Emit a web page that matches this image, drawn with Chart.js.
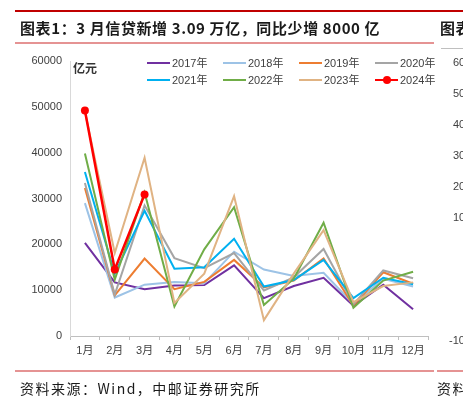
<!DOCTYPE html>
<html>
<head>
<meta charset="utf-8">
<script src="https://cdn.jsdelivr.net/npm/chart.js@4"></script>
<style>
  body { margin: 0; background: #fff; }
  #page { position: relative; width: 463px; height: 397px; overflow: hidden; background: #fff;
          font-family: "Liberation Sans", "Noto Sans CJK SC", sans-serif; }
  #chart { position: absolute; left: 0; top: 0; }
  .rule { position: absolute; }
  .txt { position: absolute; white-space: nowrap; }
  .title { font-family: "Noto Sans CJK SC", sans-serif; font-weight: bold; font-size: 15px; color: #1a1a1a; letter-spacing: 0.6px; }
  .foot { font-family: "Noto Sans CJK SC", sans-serif; font-size: 14px; color: #1a1a1a; letter-spacing: 1.5px; }
  .leg { position: absolute; font-size: 11px; color: #404040; line-height: 12px; white-space: nowrap; width: 70px; height: 12px; }
  .leg i { position: absolute; left: 0; top: 5px; width: 23px; height: 2px; }
  .leg b { position: absolute; left: 8px; top: 2px; width: 8px; height: 8px; border-radius: 50%; }
  .leg span { position: absolute; left: 25px; top: 0; white-space: nowrap; }
  .side { position: absolute; font-size: 11px; color: #404040; white-space: nowrap; }
</style>
</head>
<body>
<div id="page">
  <canvas id="chart" width="463" height="397"></canvas>

  <div class="rule" style="left:15px;top:10px;width:448px;height:2px;background:#c00000"></div>
  <div class="rule" style="left:15px;top:42px;width:419px;height:2px;background:#e59393"></div>
  <div class="rule" style="left:441px;top:48px;width:22px;height:1px;background:#bfbfbf"></div>
  <div class="rule" style="left:15px;top:370px;width:419px;height:2px;background:#e59393"></div>
  <div class="rule" style="left:437px;top:370px;width:26px;height:2px;background:#e59393"></div>

  <div class="txt title" style="left:20px;top:17px">图表1：3 月信贷新增 3.09 万亿，同比少增 8000 亿</div>
  <div class="txt title" style="left:440px;top:17px">图表</div>
  <div class="txt foot" style="left:20px;top:378px">资料来源：Wind，中邮证券研究所</div>
  <div class="txt foot" style="left:437px;top:378px">资料</div>
  <div class="txt" style="left:73px;top:59px;font-family:'Noto Sans CJK SC';font-size:12px;font-weight:bold;color:#333">亿元</div>
</div>

<script>
// monthly new RMB loans, 亿元
const months = ['1月', '2月', '3月', '4月', '5月', '6月', '7月', '8月', '9月', '10月', '11月', '12月'];
const yearLabels = ['2017年', '2018年', '2019年', '2020年', '2021年', '2022年', '2023年', '2024年'];

const loans2017 = [20300, 11700, 10200, 11000, 11100, 15400, 8255, 10900, 12700, 6632, 11200, 5844];
const loans2018 = [29000, 8393, 11200, 11800, 11500, 18400, 14500, 13100, 13800, 6970, 12500, 10800];
const loans2019 = [32300, 8858, 16900, 10200, 11800, 16600, 10600, 12100, 16900, 6613, 13900, 11400];
const loans2020 = [33400, 9057, 28500, 17000, 14800, 18100, 9927, 12800, 19000, 6898, 14300, 12600];
const loans2021 = [35800, 13600, 27300, 14700, 15000, 21200, 10800, 12200, 16600, 8262, 12700, 11300];
const loans2022 = [39800, 12300, 31300, 6454, 18900, 28100, 6790, 12500, 24700, 6152, 12100, 14000];
const loans2023 = [49000, 18100, 38900, 7188, 13600, 30500, 3459, 13600, 23100, 7384, 10900, 11700];
const loans2024 = [49200, 14500, 30900];

const yTicks = [0, 10000, 20000, 30000, 40000, 50000, 60000];
const sideTicks = ['60', '50', '40', '30', '20', '10', '-10'];

const seriesValues = [loans2017, loans2018, loans2019, loans2020, loans2021, loans2022, loans2023, loans2024];
const colors = ['#7030a0', '#9dc3e6', '#ed7d31', '#a5a5a5', '#00b0f0', '#70ad47', '#e0b383', '#ff0000'];

const fontFamily = '"Liberation Sans", "Noto Sans CJK SC", sans-serif';

const datasets = seriesValues.map((vals, i) => {
    const isLatest = i === seriesValues.length - 1;
    return {
        label: yearLabels[i],
        data: vals,
        borderColor: colors[i],
        backgroundColor: colors[i],
        borderWidth: isLatest ? 2.5 : 2,
        pointRadius: isLatest ? 4 : 0,
        pointBorderWidth: 0,
        tension: 0,
        order: seriesValues.length - 1 - i
    };
});

new Chart(document.getElementById('chart'), {
    type: 'line',
    data: { labels: months, datasets: datasets },
    options: {
        responsive: false,
        animation: false,
        devicePixelRatio: 1,
        layout: { padding: { top: 61, right: 35, bottom: 31, left: 0 } },
        plugins: { legend: { display: false }, tooltip: { enabled: false } },
        scales: {
            x: {
                offset: true,
                grid: { offset: true, drawOnChartArea: false, drawTicks: true, tickLength: 4, color: '#bfbfbf' },
                border: { color: '#bfbfbf' },
                ticks: { color: '#404040', font: { size: 11, family: fontFamily }, padding: 4, maxRotation: 0, autoSkip: false },
                afterFit: s => { s.height = 30; }
            },
            y: {
                min: 0,
                max: 60000,
                afterBuildTicks: s => { s.ticks = yTicks.map(v => ({ value: v })); },
                grid: { drawOnChartArea: false, drawTicks: false },
                border: { color: '#d9d9d9' },
                ticks: { color: '#404040', font: { size: 11, family: fontFamily }, padding: 8, callback: v => String(v) },
                afterFit: s => { s.width = 70; }
            }
        }
    }
});

// legend, 4 columns x 2 rows inside the plot area
const page = document.getElementById('page');
yearLabels.forEach((label, i) => {
    const item = document.createElement('div');
    item.className = 'leg';
    item.style.left = (147 + (i % 4) * 76) + 'px';
    item.style.top = (57 + Math.floor(i / 4) * 16.5) + 'px';
    let html = `<i style="background:${colors[i]}"></i><span>${label}</span>`;
    if (i === yearLabels.length - 1) html += `<b style="background:${colors[i]}"></b>`;
    item.innerHTML = html;
    page.appendChild(item);
});

// cut-off tick labels of the neighbouring chart
const sideY = [56, 87, 118, 149, 180, 211, 334];
sideTicks.forEach((t, i) => {
    const el = document.createElement('div');
    el.className = 'side';
    el.style.left = (t.startsWith('-') ? 449 : 453) + 'px';
    el.style.top = sideY[i] + 'px';
    el.textContent = t + '0';
    page.appendChild(el);
});
</script>
</body>
</html>
